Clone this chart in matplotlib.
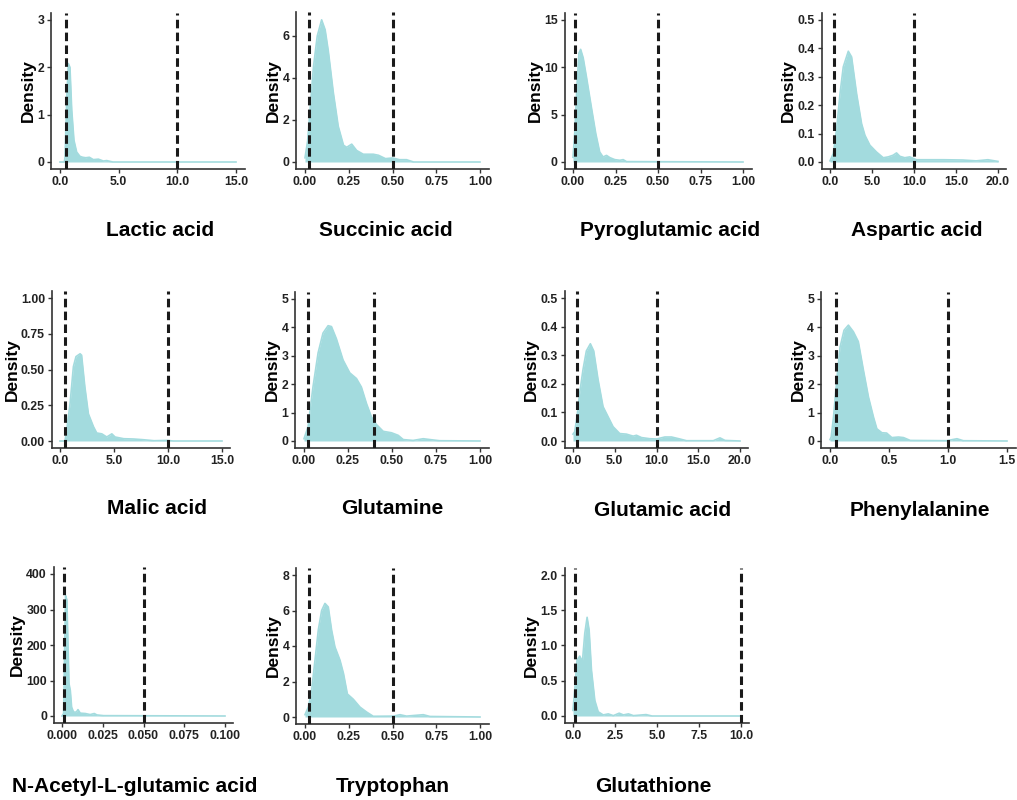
import matplotlib
matplotlib.use("Agg")
import matplotlib.pyplot as plt

plt.rcParams['font.family'] = ['Liberation Sans', 'DejaVu Sans']
plt.rcParams['font.weight'] = 'bold'

# panel names
names = ["Lactic acid", "Succinic acid", "Pyroglutamic acid", "Aspartic acid",
         "Malic acid", "Glutamine", "Glutamic acid", "Phenylalanine",
         "N-Acetyl-L-glutamic acid", "Tryptophan", "Glutathione"]

# density curves
lactic_x = [0, 0.37, 0.43, 0.57, 0.71, 0.85, 1.0, 1.19, 1.42, 1.7, 1.93, 2.2, 2.5, 2.84, 3.27, 3.7, 3.98, 4.5, 15]
lactic_y = [0, 0, 0.1, 1.3, 2.08, 2.0, 1.1, 0.46, 0.21, 0.12, 0.1, 0.09, 0.1, 0.05, 0.06, 0.02, 0.03, 0, 0]

succ_x = [0, 0.015, 0.029, 0.048, 0.07, 0.095, 0.115, 0.133, 0.162, 0.19, 0.22, 0.238, 0.267, 0.295,
          0.333, 0.39, 0.42, 0.46, 0.5, 0.54, 0.58, 0.62, 1.0]
succ_y = [0.2, 1.0, 2.5, 4.5, 6.0, 6.77, 6.3, 5.3, 3.3, 1.7, 0.8, 0.7, 0.85, 0.55,
          0.37, 0.37, 0.32, 0.16, 0.19, 0.11, 0.11, 0.0, 0.0]

pyro_x = [0, 0.01, 0.024, 0.035, 0.045, 0.06, 0.079, 0.108, 0.134, 0.157, 0.177, 0.197, 0.217,
          0.246, 0.276, 0.295, 0.315, 1.0]
pyro_y = [0.5, 3.0, 8.3, 11.5, 11.9, 11.0, 9.0, 5.8, 3.0, 1.06, 0.53, 0.7, 0.46,
          0.25, 0.18, 0.25, 0.04, 0.0]

asp_x = [0, 0.4, 0.8, 1.19, 1.58, 2.18, 2.57, 3.17, 3.76, 4.16, 4.75, 5.54, 6.34, 6.93, 7.52,
         7.92, 8.32, 8.9, 9.5, 10.3, 11.9, 13.5, 15.8, 17.4, 18.8, 20]
asp_y = [0.004, 0.03, 0.12, 0.24, 0.335, 0.39, 0.37, 0.24, 0.135, 0.094, 0.059, 0.035, 0.015, 0.018, 0.024,
         0.032, 0.02, 0.015, 0.018, 0.008, 0.008, 0.008, 0.007, 0.004, 0.008, 0.002]

malic_x = [0, 0.46, 0.62, 0.93, 1.24, 1.48, 1.86, 2.0, 2.3, 2.63, 3.1, 3.4, 3.87, 4.33, 4.8, 5.1,
           5.9, 6.8, 7.7, 8.7, 9.9, 10.5, 15]
malic_y = [0, 0, 0.075, 0.26, 0.52, 0.59, 0.61, 0.6, 0.38, 0.19, 0.1, 0.056, 0.05, 0.028, 0.05, 0.028,
           0.016, 0.014, 0.009, 0.002, 0.004, 0, 0]

gln_x = [0, 0.023, 0.051, 0.08, 0.108, 0.137, 0.156, 0.184, 0.222, 0.26, 0.298, 0.326, 0.355, 0.383,
         0.41, 0.45, 0.497, 0.535, 0.564, 0.62, 0.677, 0.716, 0.77, 1.0]
gln_y = [0.08, 0.5, 1.9, 3.1, 3.8, 4.06, 4.03, 3.6, 2.85, 2.4, 2.2, 1.9, 1.32, 0.85,
         0.59, 0.34, 0.29, 0.2, 0.05, 0.02, 0.08, 0.05, 0.01, 0.0]

glu_x = [0, 0.2, 0.48, 0.8, 1.2, 1.6, 2.08, 2.48, 3.0, 3.6, 4.2, 4.8, 5.6, 6.4, 7.2, 7.6, 8.2, 9.2,
         10, 11, 11.8, 12.8, 13.6, 16.8, 17.6, 18.2, 20]
glu_y = [0.024, 0.032, 0.085, 0.167, 0.25, 0.315, 0.34, 0.315, 0.215, 0.12, 0.085, 0.05, 0.026, 0.024,
         0.017, 0.02, 0.012, 0.008, 0.007, 0.014, 0.014, 0.007, 0.001, 0.001, 0.011, 0.002, 0.0]

phe_x = [0, 0.01, 0.03, 0.057, 0.085, 0.119, 0.156, 0.198, 0.24, 0.283, 0.326, 0.368, 0.397, 0.44,
         0.48, 0.524, 0.58, 0.623, 0.68, 0.99, 1.076, 1.13, 1.5]
phe_y = [0.05, 0.14, 0.85, 2.14, 3.3, 3.9, 4.08, 3.85, 3.5, 2.5, 1.55, 0.85, 0.43, 0.29,
         0.28, 0.12, 0.14, 0.12, 0.02, 0.01, 0.08, 0.01, 0.0]

nag_x = [0, 0.001, 0.0016, 0.0022, 0.003, 0.0037, 0.0043, 0.0051, 0.0059, 0.0071, 0.0088, 0.0098,
         0.0112, 0.0143, 0.0173, 0.0198, 0.0214, 0.0255, 0.1]
nag_y = [0, 7, 185, 339, 327, 195, 91, 72, 25, 11, 11, 18,
         8, 7, 4, 7, 3, 1, 0]

trp_x = [0, 0.019, 0.038, 0.057, 0.076, 0.095, 0.114, 0.133, 0.152, 0.171, 0.2, 0.22, 0.242, 0.276,
         0.314, 0.352, 0.39, 0.505, 0.543, 0.58, 0.676, 0.714, 1.0]
trp_y = [0.13, 0.56, 1.5, 3.2, 4.9, 6.0, 6.4, 6.2, 4.9, 3.95, 3.2, 2.45, 1.3, 1.0,
         0.56, 0.28, 0.04, 0.05, 0.13, 0.05, 0.13, 0.03, 0.0]

gsh_x = [0, 0.1, 0.24, 0.4, 0.56, 0.7, 0.84, 0.96, 1.1, 1.3, 1.5, 1.8, 2.1, 2.4, 2.75, 3.0, 3.3,
         3.6, 4.35, 4.7, 10]
gsh_y = [0.08, 0.36, 0.79, 0.85, 0.77, 1.17, 1.4, 1.22, 0.65, 0.22, 0.06, 0.015, 0.03, 0.005, 0.04, 0.015, 0.03,
         0.005, 0.02, 0.0, 0.0]

curves_x = [lactic_x, succ_x, pyro_x, asp_x, malic_x, gln_x, glu_x, phe_x, nag_x, trp_x, gsh_x]
curves_y = [lactic_y, succ_y, pyro_y, asp_y, malic_y, gln_y, glu_y, phe_y, nag_y, trp_y, gsh_y]

# dashed cut-off lines (low, high)
cutoffs = [(0.5, 10), (0.02, 0.5), (0.01, 0.5), (0.5, 10), (0.5, 10), (0.02, 0.4),
           (0.5, 10), (0.05, 1.0), (0.001, 0.05), (0.02, 0.5), (0.1, 10)]

# axis limits and ticks
x_max = [15, 1.0, 1.0, 20, 15, 1.0, 20, 1.5, 0.1, 1.0, 10]
y_max = [3, 6.8, 15, 0.5, 1.0, 5, 0.5, 5, 400, 8, 2.0]
x_ticks = [[0, 5, 10, 15], [0, 0.25, 0.5, 0.75, 1], [0, 0.25, 0.5, 0.75, 1], [0, 5, 10, 15, 20],
           [0, 5, 10, 15], [0, 0.25, 0.5, 0.75, 1], [0, 5, 10, 15, 20], [0, 0.5, 1.0, 1.5],
           [0, 0.025, 0.05, 0.075, 0.1], [0, 0.25, 0.5, 0.75, 1], [0, 2.5, 5, 7.5, 10]]
x_fmt = ['{:.1f}', '{:.2f}', '{:.2f}', '{:.1f}', '{:.1f}', '{:.2f}', '{:.1f}', '{:.1f}', '{:.3f}', '{:.2f}', '{:.1f}']
y_ticks = [[0, 1, 2, 3], [0, 2, 4, 6], [0, 5, 10, 15], [0, 0.1, 0.2, 0.3, 0.4, 0.5],
           [0, 0.25, 0.5, 0.75, 1.0], [0, 1, 2, 3, 4, 5], [0, 0.1, 0.2, 0.3, 0.4, 0.5], [0, 1, 2, 3, 4, 5],
           [0, 100, 200, 300, 400], [0, 2, 4, 6, 8], [0, 0.5, 1.0, 1.5, 2.0]]
y_fmt = ['{:.0f}', '{:.0f}', '{:.0f}', '{:.1f}', '{:.2f}', '{:.0f}', '{:.1f}', '{:.0f}', '{:.0f}', '{:.0f}', '{:.1f}']

# layout in pixels: x of 0, x of x_max, y of 0, y of top tick
px0 = [60, 305, 573, 830, 60, 304, 573, 830, 62, 305, 573]
px1 = [236, 480, 743, 998, 222, 480, 740, 1007, 225, 480, 741]
py0 = [162, 162, 162, 162, 441, 441, 441, 441, 716, 717, 716]
pyt = [20, 36, 20, 20, 298, 299, 298, 299, 574, 575, 575]
title_x = [160, 386, 670, 917, 157, 392, 663, 920, 135, 393, 653]
title_y = [231, 231, 231, 231, 508, 508, 510, 510, 787, 787, 787]

W, H = 1017, 800
fig = plt.figure(figsize=(W / 100, H / 100), dpi=100)
fill_col = '#a3dbde'

for i in range(len(names)):
    sx = (px1[i] - px0[i]) / x_max[i]
    sy = (py0[i] - pyt[i]) / y_ticks[i][-1]
    lo_x, hi_x = -0.05 * x_max[i], 1.05 * x_max[i]
    lo_y, hi_y = -0.05 * y_max[i], 1.05 * y_max[i]
    left = px0[i] + lo_x * sx
    right = px0[i] + hi_x * sx
    top = py0[i] - hi_y * sy
    bottom = py0[i] - lo_y * sy
    ax = fig.add_axes([left / W, 1 - bottom / H, (right - left) / W, (bottom - top) / H])
    ax.set_xlim(lo_x, hi_x)
    ax.set_ylim(lo_y, hi_y)

    ax.fill_between(curves_x[i], 0, curves_y[i], color=fill_col, lw=0, zorder=2)
    ax.plot(curves_x[i], curves_y[i], color=fill_col, lw=1.2, zorder=2)
    for c in cutoffs[i]:
        ax.axvline(c, color='#1a1a1a', lw=2.2, ls=(0, (2.8, 1.4)), zorder=3)

    ax.set_xticks(x_ticks[i])
    ax.set_xticklabels([x_fmt[i].format(v) for v in x_ticks[i]])
    ax.set_yticks(y_ticks[i])
    ax.set_yticklabels([y_fmt[i].format(v) for v in y_ticks[i]])
    ax.tick_params(labelsize=8.8, length=3, width=1, colors='#333333', labelcolor='#222222', pad=2)
    for s in ['top', 'right']:
        ax.spines[s].set_visible(False)
    for s in ['left', 'bottom']:
        ax.spines[s].set_linewidth(1.2)
        ax.spines[s].set_color('#333333')
    ax.set_ylabel('Density', fontsize=12.5, fontweight='bold', labelpad=1)
    fig.text(title_x[i] / W, 1 - title_y[i] / H, names[i], fontsize=15, fontweight='bold',
             ha='center', va='center')

fig.savefig('out.png', dpi=100)
